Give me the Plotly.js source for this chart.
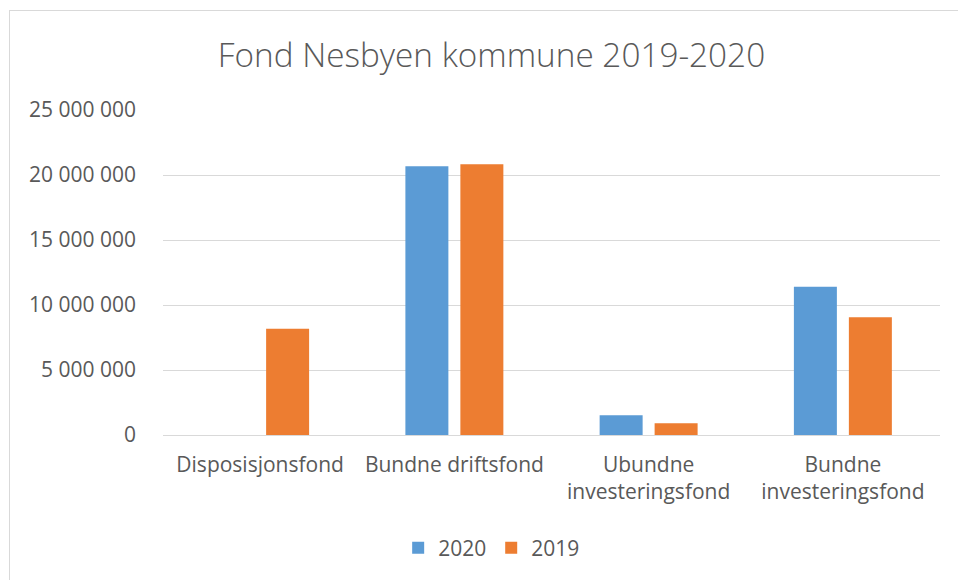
<!DOCTYPE html>
<html>
<head>
<meta charset="utf-8">
<script src="https://cdn.plot.ly/plotly-3.0.1.min.js"></script>
<style>
html,body{margin:0;padding:0;background:#fff;overflow:hidden;}
#wrap{position:relative;width:958px;height:580px;overflow:hidden;}
#frame{position:absolute;left:9px;top:10px;width:1000px;height:1000px;border:1px solid #d9d9d9;box-sizing:border-box;pointer-events:none;}
#chart{position:absolute;left:0;top:0;width:958px;height:580px;}
</style>
</head>
<body>
<div id="wrap">
<div id="chart"></div>
<div id="frame"></div>
</div>
<script>
const categories = ["Disposisjonsfond", "Bundne driftsfond", "Ubundne<br>investeringsfond", "Bundne<br>investeringsfond"];
const values2020 = [0, 20670000, 1510000, 11410000];
const values2019 = [8180000, 20820000, 900000, 9050000];
const tickVals = [0, 5000000, 10000000, 15000000, 20000000, 25000000];
const tickText = ["0", "5 000 000", "10 000 000", "15 000 000", "20 000 000", "25 000 000"];

const FONT = "Open Sans, Noto Sans, sans-serif";
const traces = [
  {type: "bar", name: "2020", x: categories, y: values2020, marker: {color: "#5B9BD5"}, hoverinfo: "y"},
  {type: "bar", name: "2019", x: categories, y: values2019, marker: {color: "#ED7D31"}, hoverinfo: "y"}
];
const layout = {
  width: 958, height: 580,
  margin: {l: 163, r: 18, t: 110, b: 145},
  paper_bgcolor: "rgba(0,0,0,0)",
  plot_bgcolor: "rgba(0,0,0,0)",
  font: {family: FONT, color: "#595959", size: 21},
  title: {text: "Fond Nesbyen kommune 2019-2020", font: {family: FONT, size: 33.3, color: "#595959", weight: 300},
          x: 0.513, xanchor: "center", y: 0.905, yanchor: "middle", yref: "container"},
  barmode: "group",
  bargap: 0.434,
  bargroupgap: 0.218,
  xaxis: {showgrid: false, showline: false, ticks: "", zeroline: false, tickfont: {size: 21, color: "#595959"},
          ticklabelstandoff: 15},
  yaxis: {range: [0, 25000000], tickvals: tickVals, ticktext: tickText, showgrid: true, gridcolor: "#d9d9d9", gridwidth: 1,
          zeroline: true, zerolinecolor: "#d9d9d9", zerolinewidth: 1, showline: false, ticks: "", ticklen: 0,
          tickfont: {size: 21, color: "#595959"}, ticklabelstandoff: 26},
  showlegend: true,
  legend: {orientation: "h", x: 0.423, xanchor: "center", y: 0.055, yanchor: "middle", yref: "container",
           font: {size: 21, color: "#595959"}, itemwidth: 30, traceorder: "normal"}
};
Plotly.newPlot("chart", traces, layout, {displayModeBar: false, staticPlot: true});
</script>
</body>
</html>
